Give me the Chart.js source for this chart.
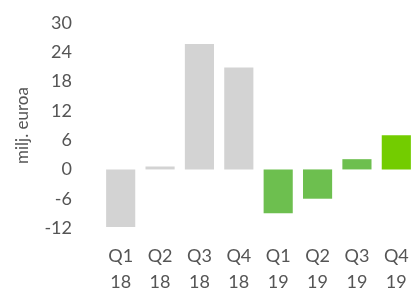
<!DOCTYPE html>
<html>
<head>
<meta charset="utf-8">
<script src="https://cdn.jsdelivr.net/npm/chart.js@4/dist/chart.umd.min.js"></script>
<style>
html,body{margin:0;padding:0;background:#fff;}
#wrap{width:416px;height:293px;}
</style>
</head>
<body>
<div id="wrap"><canvas id="c" width="416" height="293"></canvas></div>
<script>
const quarters = ["Q1","Q2","Q3","Q4","Q1","Q2","Q3","Q4"];
const years = ["18","18","18","18","19","19","19","19"];
const values = [-11.8, 0.6, 25.7, 20.9, -9.0, -6.0, 2.1, 7.0];
const barColors = ["#d3d3d3","#d3d3d3","#d3d3d3","#d3d3d3","#6dbf4f","#6dbf4f","#6dbf4f","#73cc00"];
const yTitle = "milj. euroa";
const yMin = -12, yMax = 30, yStep = 6;

const labels = quarters.map((q,i)=>[q, years[i]]);
const FONT = "Lato, 'DejaVu Sans', sans-serif";
const TXT = '#555';

new Chart(document.getElementById('c'), {
  type: 'bar',
  data: {
    labels: labels,
    datasets: [{
      data: values,
      backgroundColor: barColors,
      borderWidth: 0,
      categoryPercentage: 1.0,
      barPercentage: 0.74
    }]
  },
  options: {
    responsive: false,
    animation: false,
    layout: { padding: { left: 12, right: 0, top: 23, bottom: 0 } },
    plugins: { legend: { display: false }, tooltip: { enabled: false } },
    scales: {
      x: {
        grid: { display: false },
        border: { display: false },
        afterFit: (axis) => { axis.height = 65; axis.paddingLeft = 0; axis.paddingRight = 0; },
        ticks: {
          color: TXT,
          font: { family: FONT, size: 18, lineHeight: 1.4 },
          padding: 8,
          maxRotation: 0,
          autoSkip: false
        }
      },
      y: {
        min: yMin, max: yMax,
        grid: { display: false },
        border: { display: false },
        afterFit: (axis) => { axis.width = 89; axis.paddingTop = 0; axis.paddingBottom = 0; },
        ticks: {
          stepSize: yStep,
          autoSkip: false,
          color: TXT,
          font: { family: FONT, size: 18 },
          padding: 21
        },
        title: {
          display: true,
          text: yTitle,
          color: TXT,
          font: { family: FONT, size: 17 },
          padding: { top: 0, bottom: 10 }
        }
      }
    }
  }
});
</script>
</body>
</html>
